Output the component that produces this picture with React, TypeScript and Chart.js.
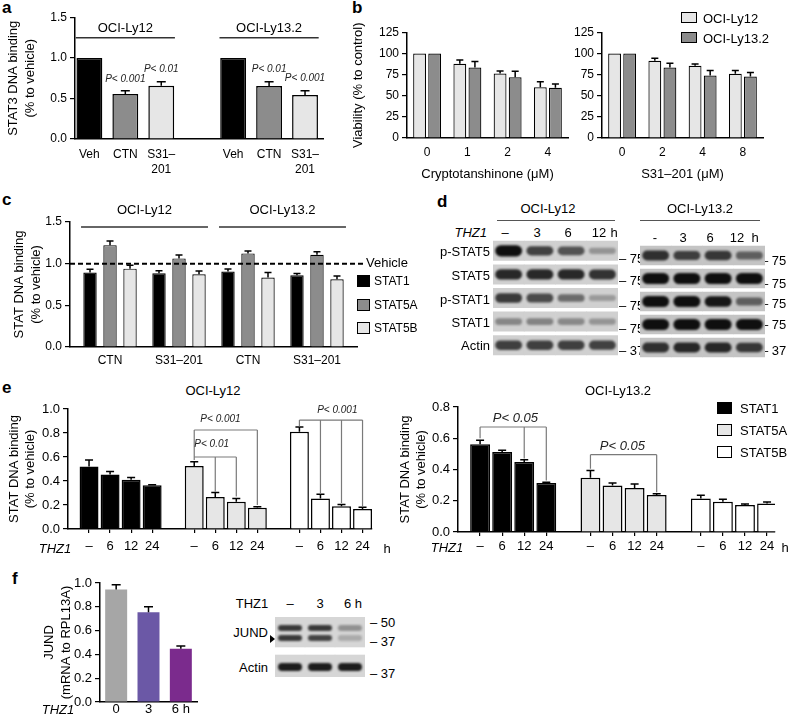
import React, { useEffect, useRef } from 'react';
import { Chart, registerables } from 'chart.js';

Chart.register(...registerables);

const FONT = '"Liberation Sans", Arial, Helvetica, sans-serif';
const BLACK = '#000000';
const MID = '#8c8c8c';
const LIGHT = '#e6e6e6';
const WHITE = '#ffffff';

/* ---------------- data: panel a ---------------- */
const aTreatments = ['Veh', 'CTN', 'S31–201'];
const aCellLines = ['OCI-Ly12', 'OCI-Ly13.2'];
const aValuesLy12 = [1.0, 0.556, 0.658];
const aErrorsLy12 = [0, 0.04, 0.05];
const aValuesLy132 = [1.0, 0.654, 0.543];
const aErrorsLy132 = [0, 0.054, 0.054];
const aPLy12 = ['', 'P< 0.001', 'P< 0.01'];
const aPLy132 = ['', 'P< 0.01', 'P< 0.001'];

/* ---------------- data: panel b ---------------- */
const bSeries = ['OCI-Ly12', 'OCI-Ly13.2'];
const bCtnDoses = ['0', '1', '2', '4'];
const bS31Doses = ['0', '2', '4', '8'];
const bCtnLy12 = [100, 88, 76.5, 60];
const bCtnLy12Err = [0, 4.5, 3, 6.5];
const bCtnLy132 = [100, 83.5, 72, 59.5];
const bCtnLy132Err = [0, 7, 7, 4.5];
const bS31Ly12 = [100, 91.4, 85.5, 76];
const bS31Ly12Err = [0, 3.2, 2.3, 4];
const bS31Ly132 = [100, 83.5, 74, 72.8];
const bS31Ly132Err = [0, 5, 6, 4.7];

/* ---------------- data: panel c ---------------- */
const cTreatments = ['CTN', 'S31–201', 'CTN', 'S31–201'];
const cCellLines = ['OCI-Ly12', 'OCI-Ly13.2'];
const cStats = ['STAT1', 'STAT5A', 'STAT5B'];
const cStat1 = [0.893, 0.885, 0.905, 0.861];
const cStat1Err = [0.04, 0.03, 0.03, 0.02];
const cStat5a = [1.222, 1.063, 1.123, 1.107];
const cStat5aErr = [0.05, 0.04, 0.03, 0.035];
const cStat5b = [0.94, 0.873, 0.833, 0.813];
const cStat5bErr = [0.04, 0.04, 0.06, 0.04];

/* ---------------- data: panel d (band intensities 0..1) ---------------- */
const dLanesLy12 = ['–', '3', '6', '12'];
const dLanesLy132 = ['-', '3', '6', '12'];
const dProteins = ['p-STAT5', 'STAT5', 'p-STAT1', 'STAT1', 'Actin'];
const dMarkers = ['75', '75', '75', '75', '37'];
const dLy12PStat5 = [1.0, 0.7, 0.6, 0.22];
const dLy12Stat5 = [0.85, 0.85, 0.85, 0.8];
const dLy12PStat1 = [0.75, 0.65, 0.45, 0.18];
const dLy12Stat1 = [0.3, 0.32, 0.28, 0.22];
const dLy12Actin = [0.72, 0.72, 0.72, 0.7];
const dLy132PStat5 = [0.8, 0.7, 0.75, 0.5];
const dLy132Stat5 = [1, 1, 1, 1];
const dLy132PStat1 = [1, 1, 0.95, 0.5];
const dLy132Stat1 = [1, 1, 1, 1];
const dLy132Actin = [0.8, 0.85, 0.85, 0.75];

/* ---------------- data: panel e ---------------- */
const eTimes = ['–', '6', '12', '24'];
const eStats = ['STAT1', 'STAT5A', 'STAT5B'];
const eLy12Stat1 = [0.52, 0.455, 0.41, 0.364];
const eLy12Stat1Err = [0.055, 0.025, 0.02, 0.005];
const eLy12Stat5a = [0.525, 0.267, 0.228, 0.178];
const eLy12Stat5aErr = [0.035, 0.038, 0.027, 0.007];
const eLy12Stat5b = [0.81, 0.255, 0.19, 0.167];
const eLy12Stat5bErr = [0.04, 0.035, 0.015, 0.015];
const eLy132Stat1 = [0.561, 0.512, 0.448, 0.314];
const eLy132Stat1Err = [0.026, 0.011, 0.015, 0.004];
const eLy132Stat5a = [0.348, 0.297, 0.282, 0.237];
const eLy132Stat5aErr = [0.045, 0.017, 0.025, 0.008];
const eLy132Stat5b = [0.215, 0.194, 0.173, 0.183];
const eLy132Stat5bErr = [0.02, 0.015, 0.006, 0.009];
const eBracketsLy12 = [
  { group: 1, from: 0, to: 3, level: 0.825, drops: [[0, 0.575], [3, 0.2]], label: 'P< 0.001', labelBar: 1.25, labelLevel: 0.915 },
  { group: 1, from: 0, to: 2, level: 0.6, drops: [[1, 0.31], [2, 0.27]], label: 'P< 0.01', labelBar: 0.83, labelLevel: 0.705 },
  { group: 2, from: 0, to: 3, level: 0.908, drops: [[0, 0.855], [1, 0.3], [2, 0.217], [3, 0.185]], label: 'P< 0.001', labelBar: 1.8, labelLevel: 0.99 },
];
const eBracketsLy132 = [
  { group: 0, from: 0, to: 3, level: 0.672, drops: [[0, 0.6], [2, 0.47], [3, 0.33]], label: 'P< 0.05', labelBar: 1.6, labelLevel: 0.73 },
  { group: 1, from: 0, to: 3, level: 0.495, drops: [[0, 0.405], [3, 0.255]], label: 'P< 0.05', labelBar: 1.45, labelLevel: 0.548 },
];

/* ---------------- data: panel f ---------------- */
const fTimes = ['0', '3', '6 h'];
const fJund = [0.945, 0.755, 0.448];
const fJundErr = [0.04, 0.045, 0.022];
const fBlotLanes = ['–', '3', '6 h'];
const fJundUpper = [0.8, 0.8, 0.35];
const fJundLower = [0.8, 0.75, 0.22];
const fActin = [0.95, 0.95, 0.95];

/* ---------------- styling helpers ---------------- */
const aColors = [BLACK, MID, LIGHT];
const fColors = ['#a6a6a6', '#6b58a6', '#7b2b8d'];

type Box = { left: number; top: number; width: number; height: number };
type Area = { l: number; t: number; r: number; b: number };

function frame(box: Box, area: Area) {
  return {
    yW: area.l - box.left,
    xH: box.top + box.height - area.b,
    padding: { left: 0, top: area.t - box.top, right: box.left + box.width - area.r, bottom: 0 },
  };
}

function font(size: number, lh = 1.2) {
  return { family: FONT, size, lineHeight: lh };
}

function yAxis(o: any) {
  return {
    type: 'linear',
    position: 'left',
    min: 0,
    max: o.max,
    afterFit: (s: any) => {
      s.width = o.width;
    },
    ticks: {
      stepSize: o.step,
      color: '#000',
      font: font(o.size),
      padding: 3,
      callback: (v: any) => Number(v).toFixed(o.digits),
    },
    grid: { display: true, drawOnChartArea: false, drawTicks: true, tickLength: 5, color: '#000', lineWidth: 1.2 },
    border: { display: true, color: '#000', width: 1.5 },
    title: o.title
      ? {
          display: true,
          text: o.title,
          color: '#000',
          font: { family: FONT, size: 13, lineHeight: 1.3 },
          padding: { top: o.titlePad || 0, bottom: 0 },
        }
      : { display: false },
  };
}

function xAxis(o: any) {
  const base: any = {
    position: 'bottom',
    afterFit: (s: any) => {
      s.height = o.height;
    },
    ticks: {
      autoSkip: false,
      maxRotation: 0,
      minRotation: 0,
      color: '#000',
      font: font(o.size, o.lh || 1.2),
      padding: o.pad,
    },
    grid: o.marks
      ? { display: true, offset: false, drawOnChartArea: false, drawTicks: true, tickLength: 4, color: '#000', lineWidth: 1.2 }
      : { display: false, drawTicks: false },
    border: { display: true, color: '#000', width: 1.5 },
    title: o.title
      ? { display: true, text: o.title, color: '#000', font: { family: FONT, size: 13 }, padding: { top: 0, bottom: 0 } }
      : { display: false },
  };
  if (o.positions) {
    base.type = 'linear';
    base.offset = false;
    base.min = o.min;
    base.max = o.max;
    base.afterBuildTicks = (s: any) => {
      s.ticks = o.positions.map((v: number) => ({ value: v }));
    };
    base.ticks.callback = (v: any) => {
      const i = o.positions.indexOf(Number(v));
      return i >= 0 ? o.labels[i] : '';
    };
  } else {
    base.type = 'category';
  }
  return base;
}

function baseOptions(padding: any, scales: any) {
  return {
    responsive: false,
    maintainAspectRatio: false,
    animation: false,
    devicePixelRatio: 1,
    events: [],
    layout: { padding },
    plugins: { legend: { display: false }, tooltip: { enabled: false }, title: { display: false } },
    scales,
  };
}

/* ---------------- plugins ---------------- */
function errorBarPlugin(errors: number[][], cap: number) {
  return {
    id: 'errorBars',
    afterDatasetsDraw(chart: any) {
      const ctx = chart.ctx;
      const ys = chart.scales.y;
      ctx.save();
      ctx.strokeStyle = '#000';
      ctx.lineWidth = 1.5;
      chart.data.datasets.forEach((ds: any, d: number) => {
        const meta = chart.getDatasetMeta(d);
        const errs = errors[d] || [];
        meta.data.forEach((el: any, i: number) => {
          const e = errs[i];
          if (!e) return;
          const raw = ds.data[i];
          const v = typeof raw === 'number' ? raw : raw.y;
          const top = ys.getPixelForValue(v);
          const end = ys.getPixelForValue(v + e);
          ctx.beginPath();
          ctx.moveTo(el.x, top);
          ctx.lineTo(el.x, end);
          ctx.moveTo(el.x - cap / 2, end);
          ctx.lineTo(el.x + cap / 2, end);
          ctx.stroke();
        });
      });
      ctx.restore();
    },
  };
}

function headerPlugin(headers: any[], level: number, ext: number, gap: number, size: number) {
  return {
    id: 'headers',
    afterDraw(chart: any) {
      const ctx = chart.ctx;
      const xs = chart.scales.x;
      const py = chart.scales.y.getPixelForValue(level);
      ctx.save();
      ctx.strokeStyle = '#333';
      ctx.lineWidth = 1.5;
      ctx.fillStyle = '#000';
      ctx.font = `${size}px ${FONT}`;
      ctx.textAlign = 'center';
      ctx.textBaseline = 'middle';
      headers.forEach((h) => {
        const x0 = xs.getPixelForValue(h.from - ext);
        const x1 = xs.getPixelForValue(h.to + ext);
        ctx.beginPath();
        ctx.moveTo(x0, py);
        ctx.lineTo(x1, py);
        ctx.stroke();
        ctx.fillText(h.label, (x0 + x1) / 2, py - gap);
      });
      ctx.restore();
    },
  };
}

function textPlugin(items: any[], size: number, dy: number) {
  return {
    id: 'pTexts',
    afterDraw(chart: any) {
      const ctx = chart.ctx;
      const xs = chart.scales.x;
      const ys = chart.scales.y;
      ctx.save();
      ctx.fillStyle = '#222';
      ctx.font = `italic ${size}px ${FONT}`;
      ctx.textAlign = 'center';
      ctx.textBaseline = 'middle';
      items.forEach((it) => {
        if (!it.text) return;
        ctx.fillText(it.text, xs.getPixelForValue(it.x), ys.getPixelForValue(it.y) + dy);
      });
      ctx.restore();
    },
  };
}

function bracketPlugin(brackets: any[], stride: number, size: number) {
  return {
    id: 'brackets',
    afterDatasetsDraw(chart: any) {
      const ctx = chart.ctx;
      const xs = chart.scales.x;
      const ys = chart.scales.y;
      const px = (g: number, i: number) => xs.getPixelForValue(g * stride + i);
      ctx.save();
      ctx.strokeStyle = '#7a7a7a';
      ctx.lineWidth = 1.2;
      ctx.fillStyle = '#222';
      ctx.font = `italic ${size}px ${FONT}`;
      ctx.textAlign = 'center';
      ctx.textBaseline = 'middle';
      brackets.forEach((b) => {
        const y = ys.getPixelForValue(b.level);
        ctx.beginPath();
        ctx.moveTo(px(b.group, b.from), y);
        ctx.lineTo(px(b.group, b.to), y);
        b.drops.forEach((dr: number[]) => {
          ctx.moveTo(px(b.group, dr[0]), y);
          ctx.lineTo(px(b.group, dr[0]), ys.getPixelForValue(dr[1]));
        });
        ctx.stroke();
        ctx.fillText(b.label, px(b.group, b.labelBar), ys.getPixelForValue(b.labelLevel));
      });
      ctx.restore();
    },
  };
}

function vehiclePlugin(level: number, label: string) {
  return {
    id: 'vehicle',
    afterDatasetsDraw(chart: any) {
      const { ctx, chartArea } = chart;
      const y = chart.scales.y.getPixelForValue(level);
      ctx.save();
      ctx.setLineDash([5, 3]);
      ctx.lineWidth = 2;
      ctx.strokeStyle = '#000';
      ctx.beginPath();
      ctx.moveTo(chartArea.left, y);
      ctx.lineTo(chartArea.right + 6, y);
      ctx.stroke();
      ctx.setLineDash([]);
      ctx.fillStyle = '#000';
      ctx.font = `13px ${FONT}`;
      ctx.textAlign = 'left';
      ctx.textBaseline = 'middle';
      ctx.fillText(label, chartArea.right + 9, y);
      ctx.restore();
    },
  };
}

const blurPlugin = {
  id: 'blur',
  beforeDatasetDraw(chart: any, args: any) {
    const ds = chart.data.datasets[args.index];
    if (ds.blurPx) {
      chart.ctx.save();
      chart.ctx.filter = `blur(${ds.blurPx}px)`;
    }
  },
  afterDatasetDraw(chart: any, args: any) {
    const ds = chart.data.datasets[args.index];
    if (ds.blurPx) chart.ctx.restore();
  },
};

/* ---------------- chart configs ---------------- */
function splitDash(s: string): string | string[] {
  const i = s.indexOf('–');
  return i > 0 ? [s.slice(0, i + 1), s.slice(i + 1)] : s;
}

const boxA: Box = { left: 0, top: 0, width: 340, height: 182 };
function configA() {
  const f = frame(boxA, { l: 75, t: 17.5, r: 323, b: 139 });
  const stride = aTreatments.length + 1;
  const positions = aCellLines.flatMap((_, g) => aTreatments.map((_, i) => g * stride + i));
  const values = [...aValuesLy12, ...aValuesLy132];
  const errors = [...aErrorsLy12, ...aErrorsLy132];
  const pTexts = [...aPLy12, ...aPLy132];
  const labels = aCellLines.flatMap(() => aTreatments.map(splitDash));
  const headers = aCellLines.map((label, g) => ({ label, from: g * stride, to: g * stride + aTreatments.length - 1 }));
  return {
    type: 'bar',
    data: {
      datasets: [
        {
          data: positions.map((x, k) => ({ x, y: values[k] })),
          backgroundColor: positions.map((_, k) => aColors[k % aTreatments.length]),
          borderColor: '#000',
          borderWidth: 1.5,
          grouped: false,
          barPercentage: 0.72,
          categoryPercentage: 1,
        },
      ],
    },
    options: baseOptions(f.padding, {
      x: xAxis({ positions, labels, min: -0.4, max: 6.5, height: f.xH, size: 12, lh: 1.25, pad: 8 }),
      y: yAxis({ max: 1.5, step: 0.5, digits: 1, width: f.yW, size: 12, title: ['STAT3 DNA binding', '(% to vehicle)'], titlePad: 5 }),
    }),
    plugins: [
      errorBarPlugin([errors], 9),
      headerPlugin(headers, 1.25, 0.38, 9, 13),
      textPlugin(positions.map((x, k) => ({ x, y: values[k] + errors[k], text: pTexts[k] })), 10, -12),
    ],
  };
}

const boxB1: Box = { left: 348, top: 0, width: 226, height: 182 };
const boxB2: Box = { left: 570, top: 0, width: 218, height: 182 };
function configB(box: Box, area: Area, doses: string[], s1: number[], e1: number[], s2: number[], e2: number[], title: string, yTitle: boolean) {
  const f = frame(box, area);
  const ds = (data: number[], color: string, label: string) => ({
    label,
    data,
    backgroundColor: color,
    borderColor: '#000',
    borderWidth: 1.2,
    categoryPercentage: 0.75,
    barPercentage: 0.85,
  });
  return {
    type: 'bar',
    data: { labels: doses, datasets: [ds(s1, LIGHT, bSeries[0]), ds(s2, MID, bSeries[1])] },
    options: baseOptions(f.padding, {
      x: xAxis({ height: f.xH, size: 12, pad: 7, title }),
      y: yAxis({ max: 125, step: 25, digits: 0, width: f.yW, size: 12, title: yTitle ? ['Viability (% to control)'] : undefined, titlePad: 1.5 }),
    }),
    plugins: [errorBarPlugin([e1, e2], 7)],
  };
}

const boxC: Box = { left: 0, top: 190, width: 420, height: 183 };
function configC() {
  const f = frame(boxC, { l: 70, t: 222, r: 357, b: 347 });
  const positions = cTreatments.map((_, i) => i);
  const mk = (vals: number[], color: string, label: string) => ({
    label,
    data: positions.map((x) => ({ x, y: vals[x] })),
    backgroundColor: color,
    borderColor: '#000',
    borderWidth: 1.2,
    categoryPercentage: 0.87,
    barPercentage: 0.67,
  });
  const per = cTreatments.length / cCellLines.length;
  const headers = cCellLines.map((label, g) => ({ label, from: g * per, to: g * per + per - 1 }));
  return {
    type: 'bar',
    data: { datasets: [mk(cStat1, BLACK, cStats[0]), mk(cStat5a, MID, cStats[1]), mk(cStat5b, LIGHT, cStats[2])] },
    options: baseOptions(f.padding, {
      x: xAxis({ positions, labels: cTreatments, min: -0.58, max: 3.58, height: f.xH, size: 12, pad: 6 }),
      y: yAxis({ max: 1.5, step: 0.5, digits: 1, width: f.yW, size: 12, title: ['STAT DNA binding', '(% to vehicle)'], titlePad: 11 }),
    }),
    plugins: [
      errorBarPlugin([cStat1Err, cStat5aErr, cStat5bErr], 7),
      vehiclePlugin(1, 'Vehicle'),
      headerPlugin(headers, 1.44, 0.42, 17, 13),
    ],
  };
}

const boxE1: Box = { left: 0, top: 380, width: 400, height: 180 };
const boxE2: Box = { left: 395, top: 380, width: 393, height: 180 };
function configE(box: Box, area: Area, series: number[][], errs: number[][], brackets: any[], maxY: number, xMax: number, yPad: number, xPad: number, pSize: number) {
  const f = frame(box, area);
  const stride = eTimes.length + 1;
  const colors = [BLACK, LIGHT, WHITE];
  const positions = series.flatMap((_, g) => eTimes.map((_, i) => g * stride + i));
  const labels = series.flatMap(() => eTimes);
  return {
    type: 'bar',
    data: {
      datasets: series.map((vals, g) => ({
        label: eStats[g],
        data: vals.map((v, i) => ({ x: g * stride + i, y: v })),
        backgroundColor: colors[g],
        borderColor: '#000',
        borderWidth: 1.5,
        grouped: false,
        categoryPercentage: 1,
        barPercentage: 0.9,
      })),
    },
    options: baseOptions(f.padding, {
      x: xAxis({ positions, labels, min: -1, max: xMax, height: f.xH, size: 13, pad: xPad, marks: true }),
      y: yAxis({ max: maxY, step: 0.2, digits: 1, width: f.yW, size: 13, title: ['STAT DNA binding', '(% to vehicle)'], titlePad: yPad }),
    }),
    plugins: [errorBarPlugin(errs, 8), bracketPlugin(brackets, stride, pSize)],
  };
}

const boxF: Box = { left: 38, top: 570, width: 170, height: 146 };
function configF() {
  const f = frame(boxF, { l: 100, t: 583, r: 197, b: 702 });
  return {
    type: 'bar',
    data: {
      labels: fTimes,
      datasets: [{ data: fJund, backgroundColor: fColors, borderWidth: 0, categoryPercentage: 1, barPercentage: 0.68 }],
    },
    options: baseOptions(f.padding, {
      x: xAxis({ height: f.xH, size: 13, pad: 0 }),
      y: yAxis({ max: 1.0, step: 0.2, digits: 1, width: f.yW, size: 13, title: ['JUND', '(mRNA to RPL13A)'], titlePad: 3 }),
    }),
    plugins: [errorBarPlugin([fJundErr], 9)],
  };
}

/* ---- blots ---- */
const boxD1: Box = { left: 493, top: 239, width: 125, height: 118 };
const boxD2: Box = { left: 640, top: 243.5, width: 125, height: 115 };
function blotD(lanes: string[], rows: number[][], strip: string) {
  const datasets: any[] = [];
  rows.forEach((vals, r) => {
    datasets.push({
      data: lanes.map(() => [r - 0.41, r + 0.41]),
      backgroundColor: strip,
      borderWidth: 0,
      grouped: false,
      barPercentage: 1,
      categoryPercentage: 1,
      order: 2,
    });
  });
  rows.forEach((vals, r) => {
    datasets.push({
      data: vals.map((v) => [r - (0.1 + 0.14 * v), r + (0.1 + 0.14 * v)]),
      backgroundColor: vals.map((v) => `rgba(15,15,15,${(0.12 + 0.88 * v).toFixed(2)})`),
      borderWidth: 0,
      borderRadius: 6,
      borderSkipped: false,
      grouped: false,
      barPercentage: 0.86,
      categoryPercentage: 1,
      order: 1,
      blurPx: 1,
    });
  });
  return {
    type: 'bar',
    data: { labels: lanes, datasets },
    options: {
      ...baseOptions({ left: 0, top: 0, right: 0, bottom: 0 }, {
        x: { type: 'category', display: false, offset: true },
        y: { type: 'linear', display: false, min: -0.5, max: rows.length - 0.5, reverse: true },
      }),
    },
    plugins: [blurPlugin],
  };
}

const boxFB: Box = { left: 275, top: 617, width: 90, height: 60 };
const fBlotGeom = { jundStrip: [0, 3], actinStrip: [3.8, 6], upper: 1.1, lower: 2.1, actin: 5.0, half: 0.3, actinHalf: 0.4 };
function blotF() {
  const g = fBlotGeom;
  const strip = (range: number[]) => ({
    data: fBlotLanes.map(() => range),
    backgroundColor: '#d6d6d6',
    borderWidth: 0,
    grouped: false,
    barPercentage: 1,
    categoryPercentage: 1,
    order: 2,
  });
  const band = (vals: number[], c: number, h: number) => ({
    data: vals.map(() => [c - h, c + h]),
    backgroundColor: vals.map((v) => `rgba(18,18,18,${v.toFixed(2)})`),
    borderWidth: 0,
    borderRadius: 4,
    borderSkipped: false,
    grouped: false,
    barPercentage: 0.8,
    categoryPercentage: 1,
    order: 1,
    blurPx: 0.8,
  });
  return {
    type: 'bar',
    data: {
      labels: fBlotLanes,
      datasets: [
        strip(g.jundStrip),
        strip(g.actinStrip),
        band(fJundUpper, g.upper, g.half),
        band(fJundLower, g.lower, g.half),
        band(fActin, g.actin, g.actinHalf),
      ],
    },
    options: baseOptions({ left: 0, top: 0, right: 0, bottom: 0 }, {
      x: { type: 'category', display: false, offset: true },
      y: { type: 'linear', display: false, min: 0, max: 6, reverse: true },
    }),
    plugins: [blurPlugin],
  };
}

/* ---------------- React components ---------------- */
function ChartBox({ box, make }: { box: Box; make: () => any }) {
  const ref = useRef<HTMLCanvasElement | null>(null);
  useEffect(() => {
    if (!ref.current) return;
    const chart = new Chart(ref.current, make());
    return () => chart.destroy();
  }, []);
  return (
    <canvas
      ref={ref}
      width={box.width}
      height={box.height}
      style={{ position: 'absolute', left: box.left, top: box.top, width: box.width, height: box.height }}
    />
  );
}

function T({ x, y, text, size = 13, align = 'center', bold = false, italic = false, color = '#000' }: any) {
  const tx = align === 'left' ? '0' : align === 'center' ? '-50%' : '-100%';
  return (
    <div
      style={{
        position: 'absolute',
        left: x,
        top: y,
        transform: `translate(${tx}, -50%)`,
        fontFamily: FONT,
        fontSize: size,
        lineHeight: 1,
        whiteSpace: 'nowrap',
        fontWeight: bold ? 700 : 400,
        fontStyle: italic ? 'italic' : 'normal',
        color,
      }}
    >
      {text}
    </div>
  );
}

function Swatch({ x, y, w, h, color }: any) {
  return (
    <div
      style={{ position: 'absolute', left: x, top: y, width: w, height: h, background: color, border: '1.2px solid #000', boxSizing: 'border-box' }}
    />
  );
}

function HLine({ x0, x1, y, color = '#555' }: any) {
  return <div style={{ position: 'absolute', left: x0, top: y, width: x1 - x0, height: 0, borderTop: `1.5px solid ${color}` }} />;
}

export default function App() {
  const dLeftRows = [dLy12PStat5, dLy12Stat5, dLy12PStat1, dLy12Stat1, dLy12Actin];
  const dRightRows = [dLy132PStat5, dLy132Stat5, dLy132PStat1, dLy132Stat1, dLy132Actin];
  const dLeftY = [251, 275, 299, 322, 345];
  const dMarkLeftY = [258, 280, 305, 328, 350];
  const dMarkRightY = [260, 283, 303, 324, 350];
  const dLaneLeftX = [505, 537, 568, 599];
  const dLaneRightX = [655, 683, 710, 737];
  const fLaneX = [290, 320, 353];
  return (
    <div style={{ position: 'absolute', left: 0, top: 0, width: 788, height: 716, background: '#fff', overflow: 'hidden', fontFamily: FONT }}>
      {/* panel letters */}
      <T x={2} y={7} text="a" size={17} bold align="left" />
      <T x={352} y={7} text="b" size={17} bold align="left" />
      <T x={2} y={199} text="c" size={17} bold align="left" />
      <T x={437} y={201} text="d" size={17} bold align="left" />
      <T x={2} y={387} text="e" size={17} bold align="left" />
      <T x={12} y={578} text="f" size={17} bold align="left" />

      {/* a */}
      <ChartBox box={boxA} make={configA} />

      {/* b */}
      <ChartBox
        box={boxB1}
        make={() => configB(boxB1, { l: 407, t: 32.5, r: 568, b: 138 }, bCtnDoses, bCtnLy12, bCtnLy12Err, bCtnLy132, bCtnLy132Err, 'Cryptotanshinone (μM)', true)}
      />
      <ChartBox
        box={boxB2}
        make={() => configB(boxB2, { l: 602, t: 32.5, r: 763, b: 138 }, bS31Doses, bS31Ly12, bS31Ly12Err, bS31Ly132, bS31Ly132Err, 'S31–201 (μM)', false)}
      />
      <Swatch x={681} y={12} w={16} h={11} color={LIGHT} />
      <Swatch x={681} y={32} w={16} h={11} color={MID} />
      <T x={703} y={17.5} text={bSeries[0]} align="left" />
      <T x={703} y={37.5} text={bSeries[1]} align="left" />

      {/* c */}
      <ChartBox box={boxC} make={configC} />
      {cStats.map((s, i) => (
        <React.Fragment key={s}>
          <Swatch x={357} y={275 + i * 23.5} w={13} h={12} color={[BLACK, MID, LIGHT][i]} />
          <T x={374} y={281 + i * 23.5} text={s} size={12} align="left" />
        </React.Fragment>
      ))}

      {/* d */}
      <T x={548} y={208} text="OCI-Ly12" />
      <HLine x0={497} x1={615} y={220} />
      <T x={700} y={208} text="OCI-Ly13.2" />
      <HLine x0={640} x1={760} y={220} />
      <T x={487} y={232} text="THZ1" italic align="right" />
      {dLanesLy12.map((l, i) => (
        <T key={'dl' + i} x={dLaneLeftX[i]} y={232} text={l} />
      ))}
      <T x={614} y={232} text="h" />
      {dLanesLy132.map((l, i) => (
        <T key={'dr' + i} x={dLaneRightX[i]} y={237} text={l} />
      ))}
      <T x={755} y={237} text="h" />
      {dProteins.map((p, i) => (
        <T key={p + i} x={490} y={dLeftY[i]} text={p} align="right" />
      ))}
      {dMarkers.map((m, i) => (
        <T key={'ml' + i} x={619} y={dMarkLeftY[i]} text={'– ' + m} align="left" />
      ))}
      {dMarkers.map((m, i) => (
        <T key={'mr' + i} x={761} y={dMarkRightY[i]} text={'–  ' + m} align="left" />
      ))}
      <ChartBox box={boxD1} make={() => blotD(dLanesLy12, dLeftRows, '#d0d0d0')} />
      <ChartBox box={boxD2} make={() => blotD(dLanesLy132, dRightRows, '#c4c4c4')} />

      {/* e */}
      <T x={213} y={390} text="OCI-Ly12" />
      <T x={618} y={390} text="OCI-Ly13.2" />
      <ChartBox
        box={boxE1}
        make={() =>
          configE(
            boxE1,
            { l: 68, t: 409, r: 372, b: 529 },
            [eLy12Stat1, eLy12Stat5a, eLy12Stat5b],
            [eLy12Stat1Err, eLy12Stat5aErr, eLy12Stat5bErr],
            eBracketsLy12,
            1.0,
            13.45,
            5.5,
            6,
            10
          )
        }
      />
      <ChartBox
        box={boxE2}
        make={() =>
          configE(
            boxE2,
            { l: 458, t: 407, r: 775, b: 532 },
            [eLy132Stat1, eLy132Stat5a, eLy132Stat5b],
            [eLy132Stat1Err, eLy132Stat5aErr, eLy132Stat5bErr],
            eBracketsLy132,
            0.8,
            13.36,
            1.5,
            3,
            13
          )
        }
      />
      <T x={55} y={548} text="THZ1" italic />
      <T x={387} y={548} text="h" />
      <T x={447} y={547} text="THZ1" italic />
      <T x={785} y={547} text="h" />
      {eStats.map((s, i) => (
        <React.Fragment key={'e' + s}>
          <Swatch x={717} y={402 + i * 22} w={15} h={12} color={[BLACK, LIGHT, WHITE][i]} />
          <T x={740} y={408 + i * 22} text={s} align="left" />
        </React.Fragment>
      ))}

      {/* f */}
      <ChartBox box={boxF} make={configF} />
      <T x={58} y={709} text="THZ1" italic />
      <T x={252} y={603} text="THZ1" />
      {fBlotLanes.map((l, i) => (
        <T key={'fl' + i} x={fLaneX[i]} y={603} text={l} />
      ))}
      <T x={268} y={632} text="JUND" align="right" />
      <T x={268} y={667} text="Actin" align="right" />
      <ChartBox box={boxFB} make={blotF} />
      <div
        style={{ position: 'absolute', left: 270, top: 635, width: 0, height: 0, borderTop: '4px solid transparent', borderBottom: '4px solid transparent', borderLeft: '5px solid #000' }}
      />
      <T x={370} y={622} text="– 50" align="left" />
      <T x={370} y={641} text="– 37" align="left" />
      <T x={370} y={673} text="– 37" align="left" />
    </div>
  );
}
